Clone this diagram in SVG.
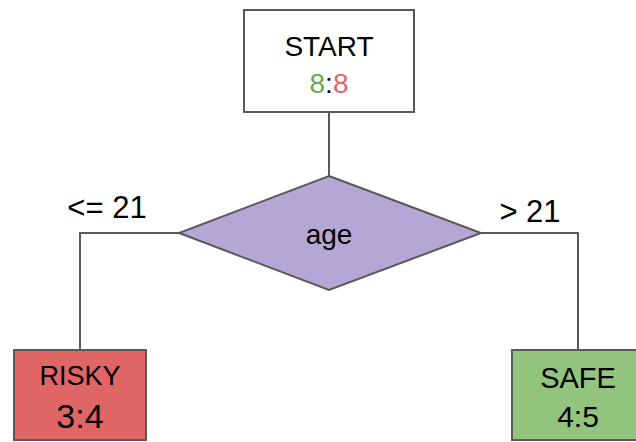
<svg xmlns="http://www.w3.org/2000/svg" width="636" height="442" viewBox="0 0 636 442">
  <style>
    .box { stroke: #595959; stroke-width: 2; }
    .lbl { font-family: "Liberation Sans", Arial, sans-serif; fill: #000; text-anchor: middle; }
    .wire { fill: none; stroke: #595959; stroke-width: 2; }
  </style>
  <rect width="636" height="442" fill="#fff"/>
  <g id="connectors">
    <line class="wire" x1="329" y1="112" x2="329" y2="176"/>
    <polyline class="wire" points="179,233 80,233 80,350"/>
    <polyline class="wire" points="481,233 578,233 578,350"/>
  </g>
  <g id="start">
    <rect class="box" x="244" y="10" width="170" height="102" fill="#fff"/>
    <text class="lbl" x="329" y="56" font-size="28">START</text>
    <text class="lbl" x="329" y="93" font-size="28"><tspan fill="#6aa84f">8</tspan>:<tspan fill="#e06666">8</tspan></text>
  </g>
  <g id="age">
    <polygon class="box" points="329,176 481,233 329,290 179,233" fill="#b4a7d6"/>
    <text class="lbl" x="329" y="244" font-size="28">age</text>
  </g>
  <g id="edge-labels">
    <text class="lbl" x="107" y="218" font-size="31">&lt;= 21</text>
    <text class="lbl" x="530" y="222" font-size="31">&gt; 21</text>
  </g>
  <g id="risky">
    <rect class="box" x="14" y="350" width="132" height="90" fill="#e06666"/>
    <text class="lbl" x="80" y="385" font-size="27">RISKY</text>
    <text class="lbl" x="80" y="428" font-size="34">3:4</text>
  </g>
  <g id="safe">
    <rect class="box" x="512" y="350" width="132" height="90" fill="#93c47d"/>
    <text class="lbl" x="578" y="388" font-size="29">SAFE</text>
    <text class="lbl" x="578" y="427" font-size="30">4:5</text>
  </g>
</svg>
